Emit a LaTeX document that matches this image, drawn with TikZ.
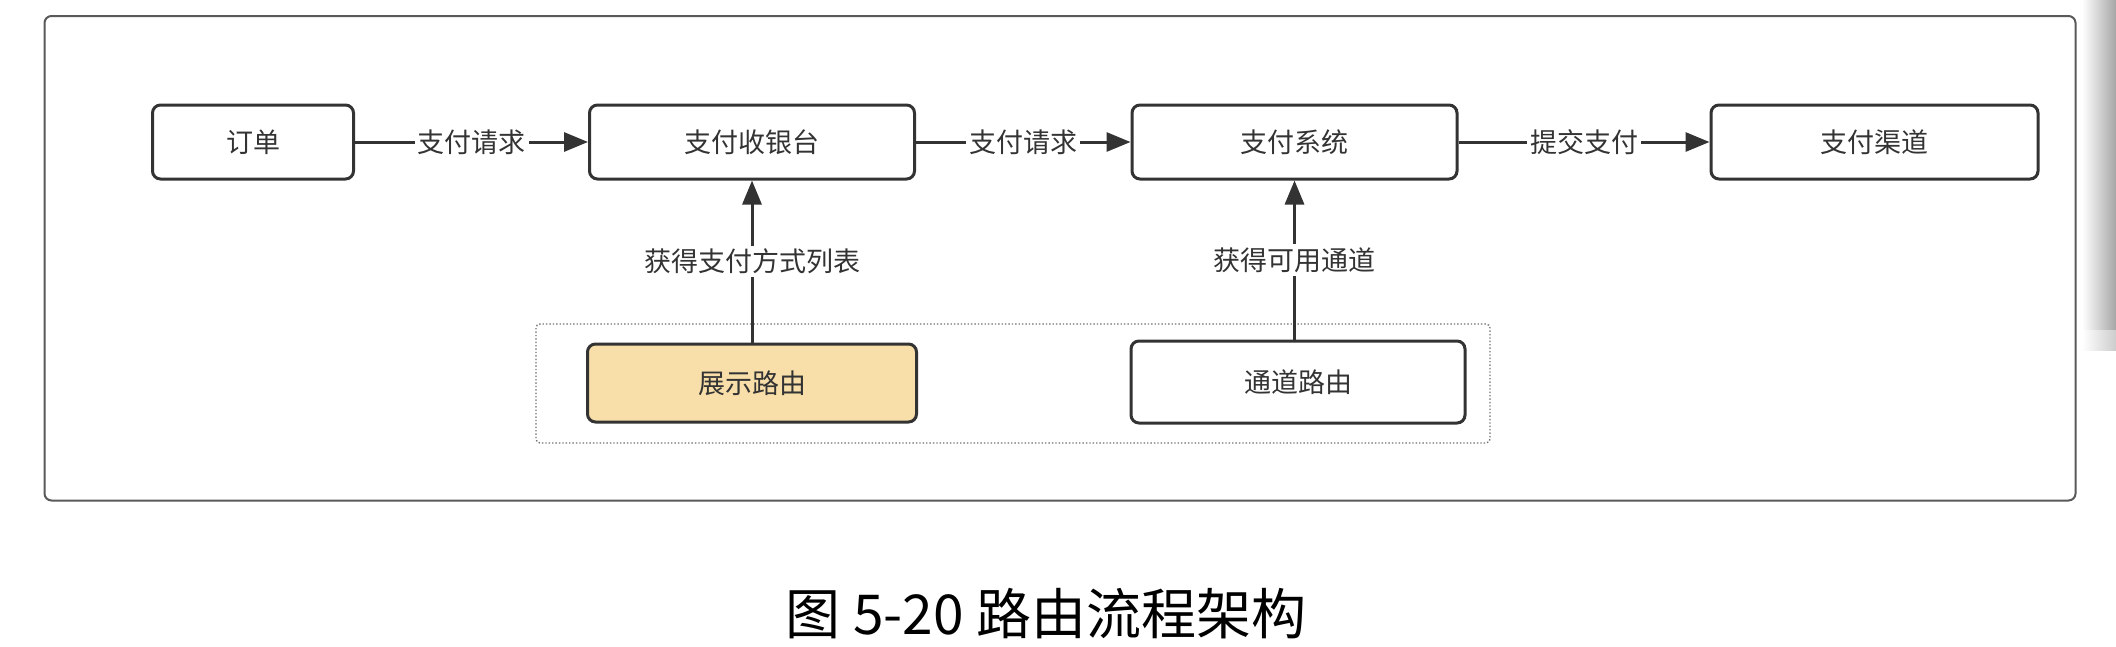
\documentclass[tikz,border=0pt]{standalone}
\usepackage{fontspec}
\newfontfamily\cjk{Noto Sans CJK SC}
\usetikzlibrary{arrows.meta,positioning}
\definecolor{boxline}{HTML}{333333}
\definecolor{txt}{HTML}{333333}
\definecolor{tan}{HTML}{F8DFAA}
\tikzset{
  stepbox/.style={draw=boxline, line width=3pt, rounded corners=8pt, fill=white,
    text=txt, font=\cjk\fontsize{27}{32}\selectfont, inner sep=0pt},
  conn/.style={draw=boxline, line width=3pt, -{Triangle[length=24pt,width=19pt]}},
  lbl/.style={fill=white, text=txt, font=\cjk\fontsize{27}{32}\selectfont, inner sep=3pt},
}
\begin{document}
\begin{tikzpicture}[x=1pt,y=-1pt]
\useasboundingbox (0,0) rectangle (2116,646);
\fill[white] (0,0) rectangle (2116,646);
% right edge shading
\shade[left color=white, right color=black!35] (2082,0) rectangle (2116,330);
\fill[white] (2082,330) rectangle (2116,470);
\shade[left color=white, right color=black!20] (2082,330) rectangle (2116,350);
% outer frame
\draw[draw=black!65, line width=2pt, rounded corners=7pt] (44.5,16) rectangle (2075.5,500.5);
% dotted group
\draw[draw=black!55, line width=1.4pt, dotted, rounded corners=4pt] (536,324) rectangle (1490,443);

\node[stepbox, minimum width=201pt, minimum height=74pt] (order) at (253,142) {订单};
\node[stepbox, minimum width=325pt, minimum height=74pt] (cashier) at (752,142) {支付收银台};
\node[stepbox, minimum width=325pt, minimum height=74pt] (paysys) at (1294.5,142) {支付系统};
\node[stepbox, minimum width=327pt, minimum height=74pt] (channel) at (1874.5,142) {支付渠道};
\node[stepbox, fill=tan, minimum width=329pt, minimum height=78pt] (showroute) at (752,383) {展示路由};
\node[stepbox, minimum width=334pt, minimum height=82pt] (chanroute) at (1298,382) {通道路由};

\draw[conn] (order) -- node[lbl] {支付请求} (cashier);
\draw[conn] (cashier) -- node[lbl] {支付请求} (paysys);
\draw[conn] (paysys) -- node[lbl] {提交支付} (channel);
\draw[conn] (showroute) -- node[lbl] {获得支付方式列表} (cashier);
\draw[conn] (chanroute.north -| paysys.south) -- node[lbl] {获得可用通道} (paysys.south);

\node[font=\cjk\fontsize{55}{60}\selectfont, text=black, inner sep=0pt] (caption) at (1046,614) {图 5-20 路由流程架构};
\end{tikzpicture}
\end{document}
